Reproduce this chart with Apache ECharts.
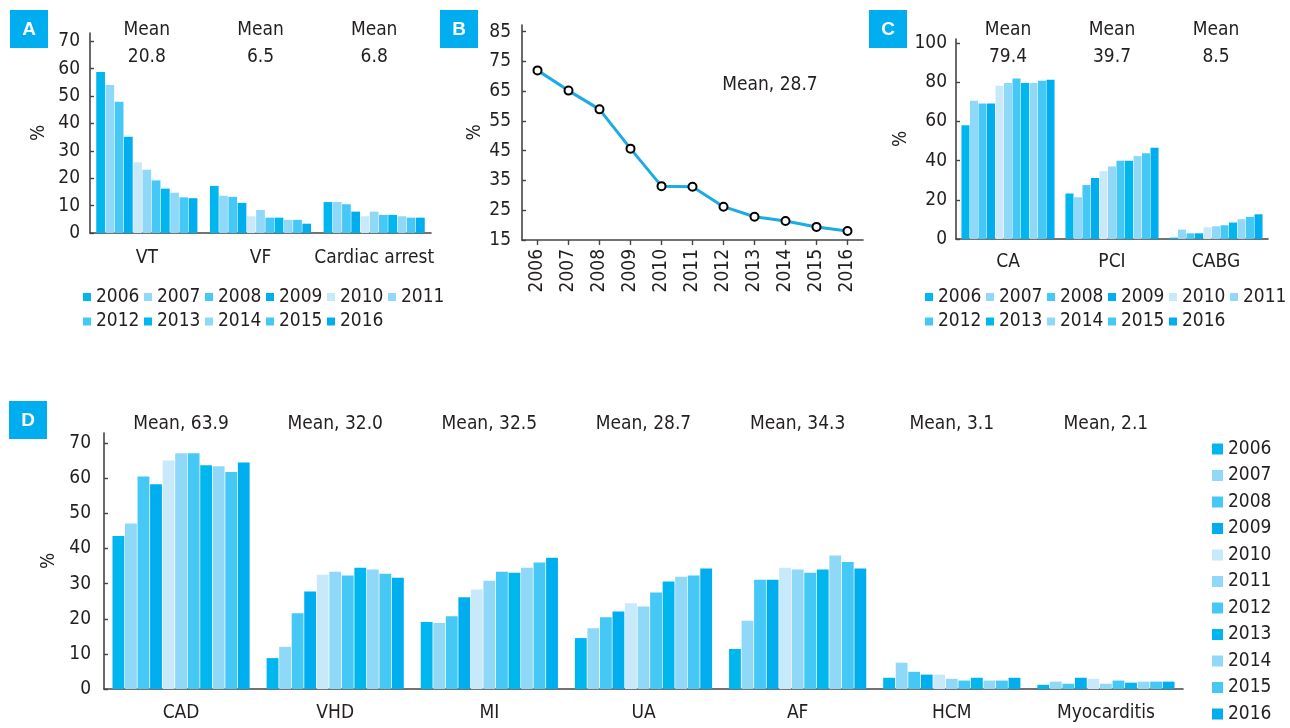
<!DOCTYPE html>
<html><head><meta charset="utf-8">
<script src="https://cdn.jsdelivr.net/npm/echarts@6/dist/echarts.min.js"></script>
<style>html,body{margin:0;padding:0;background:#fff}#c{width:1290px;height:728px}</style>
</head><body><div id="c"></div>
<script>
// ---- data ----
const years = ['2006','2007','2008','2009','2010','2011','2012','2013','2014','2015','2016'];
// Panel A
const catsA = ['VT','VF','Cardiac arrest'];
const meansA = ['Mean\n20.8','Mean\n6.5','Mean\n6.8'];
const aVT = [58.8,54.0,47.9,35.1,25.8,23.1,19.2,16.2,14.7,13.0,12.7];
const aVF = [17.2,13.6,13.2,11.0,6.1,8.4,5.6,5.6,4.8,4.8,3.4];
const aArrest = [11.3,11.3,10.5,7.8,6.1,7.8,6.6,6.6,6.1,5.6,5.6];
const ticksA = [0,10,20,30,40,50,60,70];
// Panel B
const bValues = [72.0,65.2,58.9,45.7,33.1,32.9,26.2,22.8,21.4,19.4,18.0];
const bMean = 'Mean, 28.7';
const ticksB = [15,25,35,45,55,65,75,85];
// Panel C
const catsC = ['CA','PCI','CABG'];
const meansC = ['Mean\n79.4','Mean\n39.7','Mean\n8.5'];
const cCA = [58.0,70.5,69.1,69.1,78.2,79.5,81.9,79.5,79.5,80.7,81.2];
const cPCI = [23.2,21.3,27.5,31.1,34.6,37.0,39.9,39.9,42.3,43.7,46.6];
const cCABG = [0.7,4.8,2.9,2.9,6.0,6.5,7.0,8.4,10.1,11.3,12.6];
const ticksC = [0,20,40,60,80,100];
// Panel D
const catsD = ['CAD','VHD','MI','UA','AF','HCM','Myocarditis'];
const meansD = ['Mean, 63.9','Mean, 32.0','Mean, 32.5','Mean, 28.7','Mean, 34.3','Mean, 3.1','Mean, 2.1'];
const dCAD = [43.6,47.1,60.5,58.3,65.1,67.1,67.1,63.7,63.4,61.8,64.5];
const dVHD = [8.8,12.0,21.6,27.8,32.5,33.4,32.3,34.5,34.0,32.8,31.7];
const dMI = [19.1,18.8,20.7,26.1,28.3,30.8,33.4,33.1,34.5,36.0,37.4];
const dUA = [14.5,17.3,20.4,22.1,24.4,23.5,27.5,30.6,32.0,32.3,34.3];
const dAF = [11.4,19.4,31.1,31.1,34.5,34.0,33.1,34.0,38.0,36.2,34.3];
const dHCM = [3.2,7.5,4.9,4.1,4.1,2.9,2.4,3.2,2.4,2.4,3.2];
const dMyo = [1.2,2.1,1.5,3.2,2.9,1.5,2.4,1.8,2.1,2.1,2.1];
const ticksD = [0,10,20,30,40,50,60,70];
const panelLetters = ['A','B','C','D'];

// ---- style ----
const colors = ['#00b6ee','#8fd8f7','#45c8f5','#00aeef','#c7e9f9','#8fd8f7','#45c8f5','#00b6ee','#8fd8f7','#45c8f5','#00aeef'];
const FONT = "'DejaVu Sans Condensed','DejaVu Sans',sans-serif";
const TXT = '#231f20';
const AX = '#444444';
const FS = 19;

function yAx(grid, min, max, ticks, gap, nameGap) {
  return {
    type:'value', gridIndex:grid, min:min, max:max,
    name:'%', nameLocation:'middle', nameRotate:90, nameGap:nameGap,
    nameTextStyle:{fontFamily:FONT, fontSize:FS, color:TXT},
    axisLine:{show:true, lineStyle:{color:AX, width:1.6}},
    axisTick:{show:true, inside:true, length:4, customValues:ticks, lineStyle:{color:AX, width:1.4}},
    axisLabel:{customValues:ticks, margin:gap, fontFamily:FONT, fontSize:FS, color:TXT},
    splitLine:{show:false}
  };
}
function xBottom(grid, cats, margin) {
  return {
    type:'category', gridIndex:grid, data:cats,
    axisLine:{show:true, lineStyle:{color:AX, width:1.6}},
    axisTick:{show:false},
    axisLabel:{margin:margin, fontFamily:FONT, fontSize:FS, color:TXT, interval:0}
  };
}
function xTop(grid, labels, margin, lh) {
  return {
    type:'category', gridIndex:grid, data:labels, position:'top',
    axisLine:{show:false}, axisTick:{show:false},
    axisLabel:{margin:margin, fontFamily:FONT, fontSize:FS, color:TXT, lineHeight:lh, interval:0}
  };
}

const series = [];
years.forEach((y,i) => {
  series.push({type:'bar', name:y, xAxisIndex:0, yAxisIndex:0,
    data:[aVT[i], aVF[i], aArrest[i]], itemStyle:{color:colors[i]},
    barGap:'6%', barCategoryGap:'11%'});
});
series.push({type:'line', name:'B', xAxisIndex:2, yAxisIndex:1, data:bValues,
  lineStyle:{color:'#1cabe4', width:3}, symbol:'circle', symbolSize:8,
  itemStyle:{color:'#ffffff', borderColor:'#000000', borderWidth:2}});
years.forEach((y,i) => {
  series.push({type:'bar', name:y, xAxisIndex:3, yAxisIndex:2,
    data:[cCA[i], cPCI[i], cCABG[i]], itemStyle:{color:colors[i]},
    barGap:'6%', barCategoryGap:'10.5%'});
});
years.forEach((y,i) => {
  series.push({type:'bar', name:y, xAxisIndex:5, yAxisIndex:3,
    data:[dCAD[i], dVHD[i], dMI[i], dUA[i], dAF[i], dHCM[i], dMyo[i]], itemStyle:{color:colors[i]},
    barGap:'6%', barCategoryGap:'11%'});
});

const legText = {fontFamily:FONT, fontSize:FS, color:TXT};
const boxes = [[10,10],[440,10],[869,10],[9,401]];
const graphics = [];
panelLetters.forEach((L,i) => {
  graphics.push({type:'rect', left:boxes[i][0], top:boxes[i][1], shape:{width:38, height:38}, style:{fill:'#00aeef'}});
  graphics.push({type:'text', x:boxes[i][0]+19, y:boxes[i][1]+20,
    style:{text:L, fill:'#fff', font:"bold 19px 'Liberation Sans', sans-serif", textAlign:'center', textVerticalAlign:'middle'}});
});
graphics.push({type:'text', x:770, y:85, style:{text:bMean, fill:TXT, font:FS+'px '+FONT, textAlign:'center', textVerticalAlign:'middle'}});

const option = {
  animation:false,
  backgroundColor:'#fff',
  grid:[
    {left:90, top:33, width:341, height:200},
    {left:522, top:25, width:341, height:215},
    {left:956, top:39, width:312, height:200},
    {left:104, top:433, width:1079, height:256}
  ],
  xAxis:[
    xBottom(0, catsA, 16),
    xTop(0, meansA, -38, 27),
    {type:'category', gridIndex:1, data:years, boundaryGap:true,
      axisLine:{show:true, lineStyle:{color:AX, width:1.6}},
      axisTick:{show:true, alignWithLabel:true, length:5, lineStyle:{color:AX, width:1.4}},
      axisLabel:{rotate:90, margin:9, fontFamily:FONT, fontSize:FS, color:TXT, interval:0}},
    xBottom(2, catsC, 14),
    xTop(2, meansC, -32, 27),
    xBottom(3, catsD, 15),
    xTop(3, meansD, -2, 22)
  ],
  yAxis:[
    yAx(0, 0, 73, ticksA, 10, 41),
    yAx(1, 15, 87.25, ticksB, 11, 37),
    yAx(2, 0, 102, ticksC, 9, 43),
    yAx(3, 0, 72.9, ticksD, 13, 42)
  ],
  legend:[
    {data:years, left:83, top:287, width:370, padding:0, itemWidth:8, itemHeight:8, itemGap:4.5, icon:'rect',
      textStyle:Object.assign({lineHeight:20}, legText), selectedMode:false},
    {data:years, left:925, top:287, width:370, padding:0, itemWidth:8, itemHeight:8, itemGap:4.5, icon:'rect',
      textStyle:Object.assign({lineHeight:20}, legText), selectedMode:false},
    {data:years, orient:'vertical', left:1212, top:439, height:289, padding:0, itemWidth:11, itemHeight:11, itemGap:6.5, icon:'rect',
      textStyle:Object.assign({lineHeight:20}, legText), selectedMode:false}
  ],
  graphic:graphics,
  series:series
};
const chart = echarts.init(document.getElementById('c'), null, {renderer:'canvas'});
chart.setOption(option);
</script></body></html>
